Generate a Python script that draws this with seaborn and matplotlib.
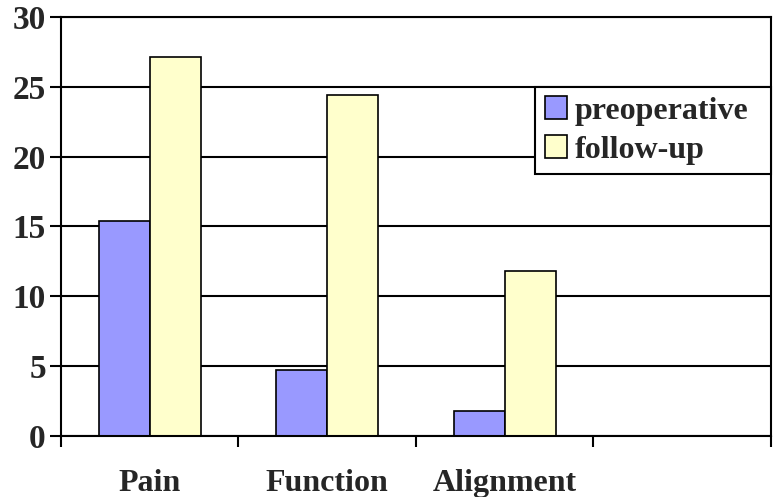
import pandas as pd
import matplotlib.pyplot as plt
import seaborn as sns

# values
categories = ["Pain", "Function", "Alignment"]
preoperative = [15.4, 4.7, 1.8]
follow_up = [27.1, 24.4, 11.8]
series = ["preoperative", "follow-up"]
colors = ["#9999FF", "#FFFFCC"]

df = pd.DataFrame({
    "category": categories * 2,
    "score": preoperative + follow_up,
    "group": [series[0]] * len(categories) + [series[1]] * len(categories),
})

sns.set_style("white")
plt.rcParams["font.family"] = ["Liberation Serif", "DejaVu Serif"]
plt.rcParams["font.weight"] = "bold"

fig = plt.figure(figsize=(7.73, 4.97), dpi=100)
ax = fig.add_axes([0.079, 0.123, 0.918, 0.843])

sns.barplot(data=df, x="category", y="score", hue="group", order=categories,
            hue_order=series, palette=dict(zip(series, colors)), width=0.575,
            saturation=1, edgecolor="black", linewidth=1.2, ax=ax)

ax.set_xlim(-0.5, 3.5)
ax.set_ylim(0, 30)
ax.set_yticks(range(0, 31, 5))
ax.set_axisbelow(True)
ax.yaxis.grid(True, color="black", linewidth=1.5)

# ticks between categories, labels at category centres
ax.set_xticks([-0.5, 0.5, 1.5, 2.5, 3.5])
ax.set_xticklabels([])
ax.set_xticks(range(len(categories)), minor=True)
ax.set_xticklabels(categories, minor=True, fontsize=23, fontweight="bold")
ax.tick_params(axis="x", which="major", direction="out", length=8, width=1.5,
               bottom=True, color="black")
ax.tick_params(axis="x", which="minor", length=0, pad=24)
ax.tick_params(axis="y", direction="out", length=8, width=1.5, left=True,
               labelsize=24, color="black", pad=3)
for lbl in ax.get_yticklabels():
    lbl.set_fontweight("bold")

for side in ["left", "right", "top", "bottom"]:
    ax.spines[side].set_visible(True)
    ax.spines[side].set_color("black")
    ax.spines[side].set_linewidth(1.5)

ax.set_xlabel("")
ax.set_ylabel("")

leg = ax.legend(loc="upper left", bbox_to_anchor=(0.668, 0.833, 0.332, 0),
                mode="expand", fancybox=False,
                frameon=True, edgecolor="black", framealpha=1,
                prop={"family": "Liberation Serif", "weight": "bold", "size": 23},
                handlelength=0.7, handleheight=0.7, handletextpad=0.25,
                borderaxespad=0, borderpad=0.3, labelspacing=0.3)
leg.get_frame().set_linewidth(1.5)

fig.savefig("out.png", dpi=100)
